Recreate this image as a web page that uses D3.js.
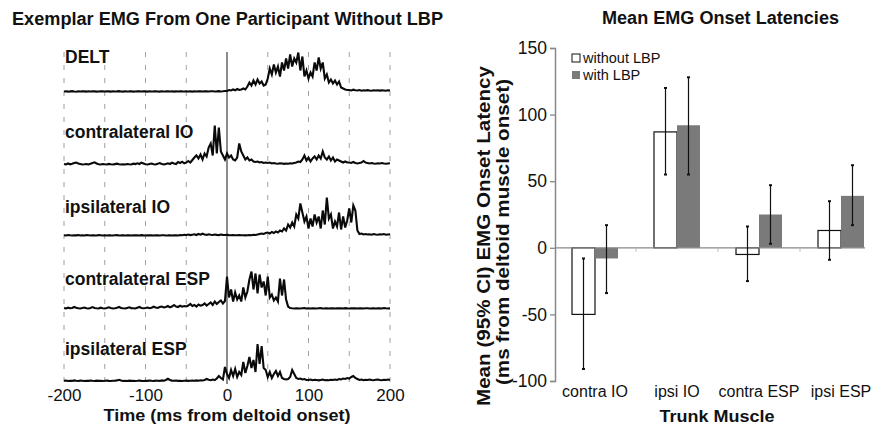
<!DOCTYPE html>
<html>
<head>
<meta charset="utf-8">
<script src="https://cdn.jsdelivr.net/npm/d3@7"></script>
<style>
  body { margin: 0; background: #fff; }
  svg { display: block; font-family: "Liberation Sans", Arial, sans-serif; }
</style>
</head>
<body>
<div id="vis-container"></div>
<script>
// ---- data ----
// EMG traces, amplitude (a.u.) sampled every 2.5 ms from -200 to 200 ms
const timeStep = 2.5;
const timeStart = -200;
const traceNames = ["DELT", "contralateral IO", "ipsilateral IO", "contralateral ESP", "ipsilateral ESP"];

const deltEMG = [
  1.0,1.3,0.9,1.1,1.4,1.0,0.8,1.2,1.0,1.3,
  1.1,0.9,1.2,1.0,1.3,1.1,0.9,1.0,1.2,1.1,
  1.0,1.3,1.1,0.9,1.2,1.0,1.1,1.4,1.0,0.9,
  1.2,1.0,1.1,1.3,0.9,1.0,1.2,1.1,1.0,1.3,
  1.1,0.9,1.2,1.0,1.1,1.3,1.0,0.9,1.2,1.0,
  1.1,1.3,1.0,1.2,0.9,1.1,1.0,1.3,1.1,1.0,
  1.2,1.0,1.1,0.9,1.3,1.0,1.2,1.1,1.0,1.2,
  1.1,1.0,1.3,1.2,1.0,1.1,1.4,1.0,1.2,1.5,
  1.5,2.5,2.0,3.0,2.2,3.5,2.5,3.0,4.0,3.0,
  6,10,7,12,8,13,9,11,7,8,
  14,24,18,28,20,26,16,30,22,34,
  24,38,26,34,30,40,22,36,16,22,
  14,20,16,30,22,35,24,30,14,18,
  10,13,9,12,8,11,5,4,3,2.5,
  2.5,2,2.8,2.2,2,2.5,1.8,2.2,2.0,2.4,
  2.0,1.8,2.2,2.0,2.3,1.9,2.1,2.0,1.8,2.2,2.0
];
const contraIOEMG = [
  1.5,1.0,2.0,1.2,1.8,2.5,3.0,2.0,1.5,1.0,
  1.2,1.5,1.0,1.8,2.5,3.2,2.0,1.2,1.0,1.5,
  1.2,1.0,1.6,1.2,1.0,1.4,1.8,1.2,1.0,1.3,
  1.0,1.5,1.2,1.0,1.8,1.4,2.2,1.5,2.8,2.0,
  1.2,1.0,1.5,2.0,1.2,1.0,1.8,2.4,1.5,1.0,
  1.6,2.2,1.5,2.8,2.0,1.4,3.5,2.5,3.8,2.2,
  3.0,4.5,3.0,5.5,8.0,10,7,11,6,12,
  9,18,22,10,40,12,38,14,10,6,
  12,8,10,6,5,8,22,14,10,6,
  8,5,6,4,3.5,4,3,3.5,2.5,3,
  2.5,3,2,2.5,2,1.8,2.2,2,1.6,2,
  1.8,2.2,2,2.5,3,4,3.5,6,10,5,
  8,4,7,9,6,10,7,14,8,6,
  9,5,8,4,6,5,4,3,4,3,
  3,2.5,3.5,2.5,2.0,2.5,3.0,4.5,3.0,2.5,
  2,2.5,2,1.8,2.2,2,2.5,2,1.8,2,2.2
];
const ipsiIOEMG = [
  1.2,1.0,1.5,1.2,1.0,1.3,1.1,1.5,1.0,1.2,
  1.0,1.4,1.2,1.0,1.3,1.1,1.0,1.4,1.2,1.0,
  1.2,1.0,1.3,1.1,1.0,1.2,1.4,1.0,1.1,1.3,
  1.0,1.2,1.1,1.0,1.3,1.1,1.2,1.0,1.4,1.1,
  1.0,1.2,1.1,1.3,1.0,1.2,1.1,1.0,1.3,1.2,
  1.0,1.1,1.3,1.0,1.2,1.1,1.0,1.5,1.2,1.8,
  1.5,2.0,1.4,1.8,2.2,1.5,2.5,1.8,2.8,2.0,
  1.6,2.2,1.8,1.5,2.0,1.6,1.4,2.0,1.6,1.5,
  1.8,1.4,1.2,1.5,1.3,1.2,1.4,1.2,1.3,1.1,
  1.2,1.5,1.3,1.8,1.5,2.0,2.5,3.0,2.5,3.5,
  4.0,3.0,4.5,3.5,5.0,4.0,6.0,5.0,8.0,6.0,
  12,9,14,10,22,18,33,24,15,20,
  8,18,10,22,14,20,8,26,12,39,
  18,22,8,15,10,24,7,20,9,16,
  28,14,31,26,6,2.5,3,2,2.5,2,
  2.2,1.8,2.5,2.0,1.8,2.2,2.0,2.5,1.8,2.0,2.2
];
const contraESPEMG = [
  1.5,1.0,1.8,1.2,1.5,2.5,1.8,1.2,1.0,1.5,
  2.0,1.2,1.0,1.6,2.4,1.5,1.2,1.0,1.8,1.3,
  1.0,1.5,2.2,1.4,1.0,1.2,1.8,2.5,1.5,1.2,
  1.0,1.6,2.2,1.4,1.2,1.0,1.8,2.6,1.5,1.2,
  1.5,2.0,1.3,1.8,2.8,2.0,1.5,2.4,3.0,2.0,
  2.5,3.5,2.2,3.0,4.5,3.0,2.5,3.8,2.8,3.5,
  3.0,4.0,5.5,3.5,4.5,3.0,5.0,3.8,4.5,6.0,
  4.0,5.5,7.0,4.5,8.0,5.5,7.5,9.0,6.0,8.5,
  33,12,20,8,17,10,14,8,22,12,
  18,30,38,20,36,16,35,22,28,14,
  33,12,15,9,12,8,31,14,30,10,
  3,1.5,1.2,1.0,1.3,1.1,1.0,1.2,1.4,1.0,
  1.2,1.0,1.3,1.1,1.0,1.2,1.4,1.0,1.1,1.3,
  1.0,1.2,1.1,1.0,1.3,1.1,1.2,1.0,1.4,1.1,
  1.0,1.2,1.1,1.3,1.0,1.2,1.1,1.0,1.3,1.2,
  1.0,1.1,1.3,1.0,1.2,1.1,1.0,1.5,1.2,1.0,1.1
];
const ipsiESPEMG = [
  1.2,1.5,1.0,1.3,1.1,1.6,1.2,1.0,1.4,1.2,
  1.0,1.3,1.1,1.5,1.2,1.0,1.4,1.1,1.3,1.0,
  1.2,1.5,1.1,1.0,1.3,1.2,1.6,2.2,1.4,1.0,
  1.2,1.0,1.4,1.1,1.3,1.0,1.2,1.5,1.1,1.0,
  1.3,1.1,1.5,1.2,1.0,1.4,1.2,1.1,1.6,1.3,
  2.0,3.2,2.0,1.4,1.2,1.5,1.1,1.3,1.0,1.2,
  1.4,1.1,1.3,1.5,1.2,1.6,1.3,1.8,1.5,2.0,
  3.0,2.2,1.8,2.5,2.0,3.5,6.0,4.0,2.5,15,
  8,4,12,6,13,5,10,7,20,9,
  16,25,14,22,10,38,18,36,14,12,
  5,10,4,8,11,6,10,4,3,2.5,
  3,5,12,8,4,3,3.5,2.5,3,2,
  2,2.5,1.8,2.2,2,1.6,2,2.4,1.8,2,
  1.8,2.2,2,2.5,2,3,2.5,3.5,3,4,
  3.5,5,6,4,3,2,2.5,1.8,2.2,2,
  2.5,2,1.8,2.2,2.5,2,1.8,2.2,2,2.5,2
];
const traces = [deltEMG, contraIOEMG, ipsiIOEMG, contraESPEMG, ipsiESPEMG];
const timeTicks = [-200, -100, 0, 100, 200];
const timeGrid = [-200, -150, -100, -50, 50, 100, 150, 200];

// bar chart: mean onset latency with 95% CI
const muscles = ["contra IO", "ipsi IO", "contra ESP", "ipsi ESP"];
const groups = ["without LBP", "with LBP"];
const meanWithout = [-50, 87, -5, 13];
const meanWith = [-8, 92, 25, 39];
const ciLowWithout = [-91, 55, -25, -9];
const ciHighWithout = [-8, 120, 16, 35];
const ciLowWith = [-34, 55, 3, 17];
const ciHighWith = [17, 128, 47, 62];
const latencyTicks = [-100, -50, 0, 50, 100, 150];

// ---- setup ----
const width = 876, height = 430;
const svg = d3.select("#vis-container").append("svg")
  .attr("width", width).attr("height", height);
svg.append("rect").attr("width", width).attr("height", height).attr("fill", "#fff");

// bold heading helper, stretched to the reference width
function heading(x, y, txt, len, size) {
  return svg.append("text")
    .attr("x", x).attr("y", y)
    .attr("text-anchor", "middle")
    .attr("font-weight", "bold").attr("font-size", size || "17px")
    .attr("fill", "#111")
    .attr("textLength", len).attr("lengthAdjust", "spacingAndGlyphs")
    .text(txt);
}

// ================= left panel: EMG traces =================
const xT = d3.scaleLinear().domain([-200, 200]).range([64, 390]);
const baselines = [92.5, 165.5, 236.5, 309.5, 382];
const traceTop = 52, traceBottom = 384;

heading(227.5, 25, "Exemplar EMG From One Participant Without LBP", 431, "17.5px");

// dashed grid every 50 ms
svg.append("g").selectAll("line")
  .data(timeGrid)
  .join("line")
    .attr("x1", d => xT(d)).attr("x2", d => xT(d))
    .attr("y1", traceTop).attr("y2", traceBottom)
    .attr("stroke", "#a0a0a0")
    .attr("stroke-width", 1)
    .attr("stroke-dasharray", "5,8");

// deltoid onset line
svg.append("line")
  .attr("x1", xT(0)).attr("x2", xT(0))
  .attr("y1", traceTop).attr("y2", traceBottom)
  .attr("stroke", "#666").attr("stroke-width", 1.5);

const line = d3.line()
  .x((d, i) => xT(timeStart + i * timeStep));

traces.forEach((vals, k) => {
  const yA = d3.scaleLinear().domain([0, 40]).range([baselines[k], baselines[k] - 40]);
  svg.append("path")
    .datum(vals)
    .attr("d", line.y(d => yA(d)))
    .attr("fill", "none")
    .attr("stroke", "#0a0a0a")
    .attr("stroke-width", 2.1)
    .attr("stroke-linejoin", "miter");
});

// trace labels
const labelY = [63, 138, 213, 285, 355];
svg.append("g").selectAll("text")
  .data(traceNames)
  .join("text")
    .attr("x", 65)
    .attr("y", (d, i) => labelY[i])
    .attr("font-weight", "bold")
    .attr("font-size", "17.5px")
    .attr("fill", "#111")
    .text(d => d);

// time axis
const xAxisL = svg.append("g")
  .attr("transform", "translate(0,383)")
  .call(d3.axisBottom(xT).tickValues(timeTicks).tickSize(0).tickPadding(6)
    .tickFormat(d => String(d)));
xAxisL.select(".domain").remove();
xAxisL.selectAll("text").attr("font-size", "17px").attr("font-family", "Liberation Sans, Arial, sans-serif").attr("fill", "#111");

heading(227, 421, "Time (ms from deltoid onset)", 247);

// ================= right panel: bar chart =================
const yL = d3.scaleLinear().domain([-100, 150]).range([381, 48]);
const xM = d3.scaleBand().domain(muscles).range([554, 882]);
const xG = d3.scaleBand().domain(groups).range([18, 64]);
const gray = "#7a7a7a";

heading(720.5, 24, "Mean EMG Onset Latencies", 237, "17.5px");

const barData = muscles.map((m, i) => [
  { muscle: m, group: groups[0], mean: meanWithout[i], lo: ciLowWithout[i], hi: ciHighWithout[i] },
  { muscle: m, group: groups[1], mean: meanWith[i], lo: ciLowWith[i], hi: ciHighWith[i] }
]).flat();

// bars
svg.append("g").selectAll("rect")
  .data(barData)
  .join("rect")
    .attr("x", d => xM(d.muscle) + xG(d.group))
    .attr("y", d => yL(Math.max(0, d.mean)))
    .attr("width", xG.bandwidth())
    .attr("height", d => Math.abs(yL(d.mean) - yL(0)))
    .attr("fill", d => d.group === groups[0] ? "#fff" : gray)
    .attr("stroke", d => d.group === groups[0] ? "#111" : "none")
    .attr("stroke-width", 1.2);

// y axis
const yAxis = svg.append("g")
  .attr("transform", "translate(555,0)")
  .call(d3.axisLeft(yL).tickValues(latencyTicks).tickSize(5).tickPadding(3)
    .tickFormat(d => String(d)));
yAxis.select(".domain").attr("stroke", "#888").attr("stroke-width", 1.5);
yAxis.selectAll(".tick line").attr("stroke", "#888").attr("stroke-width", 1.3);
yAxis.selectAll("text").attr("font-size", "17.5px").attr("font-family", "Liberation Sans, Arial, sans-serif").attr("fill", "#111");

// zero line with group ticks
svg.append("line")
  .attr("x1", 555).attr("x2", 865)
  .attr("y1", yL(0)).attr("y2", yL(0))
  .attr("stroke", "#888").attr("stroke-width", 1.3);
svg.append("g").selectAll("line")
  .data(muscles.slice(1))
  .join("line")
    .attr("x1", d => xM(d)).attr("x2", d => xM(d))
    .attr("y1", yL(0)).attr("y2", yL(0) + 4)
    .attr("stroke", "#bbb").attr("stroke-width", 1);

// error bars
const eb = svg.append("g").selectAll("g")
  .data(barData)
  .join("g")
    .attr("stroke", "#111")
    .attr("stroke-width", 1.2);
eb.append("line")
  .attr("x1", d => xM(d.muscle) + xG(d.group) + xG.bandwidth() / 2)
  .attr("x2", d => xM(d.muscle) + xG(d.group) + xG.bandwidth() / 2)
  .attr("y1", d => yL(d.lo)).attr("y2", d => yL(d.hi));
eb.each(function(d) {
  const cx = xM(d.muscle) + xG(d.group) + xG.bandwidth() / 2;
  [d.lo, d.hi].forEach(v => {
    d3.select(this).append("line")
      .attr("x1", cx - 1.5).attr("x2", cx + 1.5)
      .attr("y1", yL(v)).attr("y2", yL(v))
      .attr("stroke-width", 2);
  });
});

// category labels
svg.append("g").selectAll("text")
  .data(muscles)
  .join("text")
    .attr("x", d => xM(d) + xM.bandwidth() / 2)
    .attr("y", 397)
    .attr("text-anchor", "middle")
    .attr("font-size", "16px")
    .attr("fill", "#111")
    .text(d => d);

heading(717, 422, "Trunk Muscle", 115);

// y label (two lines)
const yLab = svg.append("text")
  .attr("transform", "translate(490,236) rotate(-90)")
  .attr("text-anchor", "middle")
  .attr("font-weight", "bold").attr("font-size", "17.5px")
  .attr("fill", "#111");
yLab.append("tspan").attr("x", 0).attr("y", 0)
  .attr("textLength", 340).attr("lengthAdjust", "spacingAndGlyphs")
  .text("Mean (95% CI) EMG Onset Latency");
yLab.append("tspan").attr("x", 4).attr("y", 19)
  .attr("textLength", 306).attr("lengthAdjust", "spacingAndGlyphs")
  .text("(ms from deltoid muscle onset)");

// legend
const leg = svg.append("g").selectAll("g")
  .data(groups)
  .join("g")
    .attr("transform", (d, i) => `translate(572,${54 + i * 17})`);
leg.append("rect")
  .attr("width", 8).attr("height", 8)
  .attr("fill", (d, i) => i === 0 ? "#fff" : gray)
  .attr("stroke", (d, i) => i === 0 ? "#111" : "none")
  .attr("stroke-width", 1);
leg.append("text")
  .attr("x", 11).attr("y", 8.5)
  .attr("font-size", "14.5px")
  .attr("fill", "#111")
  .text(d => d);
</script>
</body>
</html>
